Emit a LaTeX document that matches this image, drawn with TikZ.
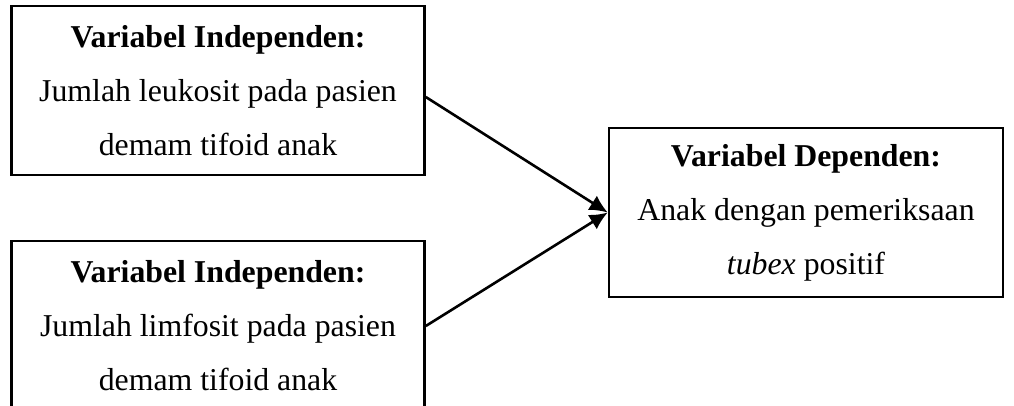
\documentclass[tikz,border=0pt]{standalone}
\usepackage{fontspec}
\setmainfont{Liberation Serif}
\usetikzlibrary{arrows.meta}
\begin{document}
\begin{tikzpicture}[x=1pt,y=-1pt,
  varbox/.style={draw=black, line width=2.6pt, inner sep=0pt, align=center,
    font=\fontsize{31.8}{54}\selectfont},
  link/.style={line width=2.6pt, -{Latex[length=18pt,width=17pt]}}]
\useasboundingbox (0,0) rectangle (1014,405);
\clip (0,0) rectangle (1014,405);
\node[varbox, minimum width=413pt, minimum height=169pt] (b1) at (218,90.5)
  {\textbf{Variabel Independen:}\\Jumlah leukosit pada pasien\\demam tifoid anak};
\node[varbox, minimum width=413pt, minimum height=170pt] (b2) at (218,326)
  {\textbf{Variabel Independen:}\\Jumlah limfosit pada pasien\\demam tifoid anak};
\node[varbox, minimum width=394pt, minimum height=169pt] (dep) at (806,212.5)
  {\textbf{Variabel Dependen:}\\Anak dengan pemeriksaan\\\textit{tubex} positif};
\coordinate (s1) at (b1.east |- 0,97);
\draw[link] (s1) -- (dep.west);
\draw[link] (b2.east) -- (dep.west);
\end{tikzpicture}
\end{document}
